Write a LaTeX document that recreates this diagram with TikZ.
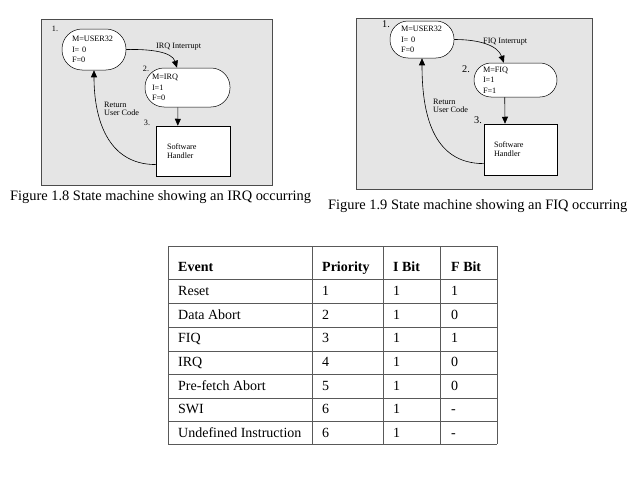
\documentclass[tikz,border=0pt]{standalone}
\usepackage{fontspec}
\setmainfont{Liberation Serif}
\usepackage{tikz}
\usetikzlibrary{arrows.meta}

\newcommand{\diagfont}{\fontsize{8.2}{10.5}\selectfont}
\newcommand{\tablafont}{\fontsize{14}{16}\selectfont}

\begin{document}
\begin{tikzpicture}[x=1pt, y=-1pt,
    panel/.style={fill=gray!20, draw=black!70, line width=0.6pt},
    estado/.style={draw, fill=white, rounded corners=#1, align=left, font=\diagfont, inner ysep=0pt, line width=0.5pt},
    manejador/.style={draw, fill=white, align=left, font=\fontsize{8.2}{9}\selectfont, inner ysep=0pt, line width=0.5pt},
    numero/.style={inner sep=0pt, font=#1},
    etiqueta/.style={anchor=west, align=left, inner sep=0pt, font=\fontsize{8.2}{8.5}\selectfont},
    flecha/.style={-{Triangle[length=7pt,width=6pt]}, line width=0.6pt},
    pie/.style={anchor=west, inner sep=0pt, font=\fontsize{14.4}{16}\selectfont},
    celda/.style={anchor=base west, inner sep=0pt, font=\tablafont},
    raya/.style={draw=black!65, line width=0.7pt}]
    \useasboundingbox (0,0) rectangle (638,479);

    % Fondos grises
    \draw[panel] (41,19) rectangle (272,185);
    \draw[panel] (356,18) rectangle (592,189);

    % Estados de la IRQ
    \node[estado=20, minimum width=64, minimum height=41, text width=44, inner xsep=10] (u1) at (94,49.5) {M=USER32\\I= 0\\F=0};
    \node[estado=19, minimum width=85, minimum height=39, text width=71, inner xsep=7] (i2) at (187.5,87.5) {M=IRQ\\I=1\\F=0};
    \node[manejador, minimum width=74, minimum height=50, text width=52, inner xsep=11] (h3) at (193,151) {Software\\Handler};
    \node[numero=\diagfont] (n1) at (55,29) {1.};
    \node[numero=\diagfont] (n2) at (146,69) {2.};
    \node[numero=\diagfont] (n3) at (147,123) {3.};

    % Estados de la FIQ
    \node[estado=18, minimum width=64, minimum height=37, text width=42, inner xsep=11] (r1) at (422,39.5) {M=USER32\\I= 0\\F=0};
    \node[estado=17, minimum width=83, minimum height=34, text width=65, inner xsep=9] (f2) at (515.5,80) {M=FIQ\\I=1\\F=1};
    \node[manejador, minimum width=73, minimum height=51, text width=53, inner xsep=10] (g3) at (520.5,149.5) {Software\\Handler};
    \node[numero=\fontsize{10.3}{11}\selectfont] (m1) at (386,24) {1.};
    \node[numero=\fontsize{10.3}{11}\selectfont] (m2) at (466,69) {2.};
    \node[numero=\fontsize{10.3}{11}\selectfont] (m3) at (478,120) {3.};

    % Transiciones (IRQ)
    \draw[flecha] (u1.east) .. controls +(24,-0.5) and +(-5,-16) .. (i2.118);
    \draw[flecha] (i2.244) -- (h3.121);
    \draw[flecha] (h3.200.7) to[out=180, in=270, looseness=1.1] (u1.south);
    \node[etiqueta] (irq) at (156,47) {IRQ Interrupt};
    \node[etiqueta] (ret1) at (104,109) {Return\\User Code};

    % Transiciones (FIQ)
    \draw[flecha] (r1.east) .. controls +(26,0) and +(-6,-17) .. (f2.124);
    \draw[flecha] (f2.238.3) -- (g3.121.3);
    \draw[flecha] (g3.201.7) to[out=180, in=270, looseness=1.1] (r1.south);
    \node[etiqueta] (fiq) at (483,42) {FIQ Interrupt};
    \node[etiqueta] (ret2) at (433,106) {Return\\User Code};

    % Pies de figura
    \node[pie] (fig18) at (10,197) {Figure 1.8 State machine showing an IRQ occurring};
    \node[pie] (fig19) at (328,206) {Figure 1.9 State machine showing an FIQ occurring};

    % Tabla de prioridades
    \foreach \y in {246,279.3,303.3,327.3,351,374.7,398,421.7,444.3}
        \draw[raya] (168.3,\y) -- (497,\y);
    \foreach \x in {168.3,312.7,383.7,440.7,497}
        \draw[raya] (\x,246) -- (\x,444.3);
    \node[celda] (hev) at (178,271.7) {\textbf{Event}};
    \node[celda] (hpr) at (322,271.7) {\textbf{Priority}};
    \node[celda] (hib) at (393,271.7) {\textbf{I Bit}};
    \node[celda] (hfb) at (451,271.7) {\textbf{F Bit}};
    \foreach \ev/\pr/\ib/\fb [count=\i] in {Reset/1/1/1, Data Abort/2/1/0, FIQ/3/1/1, IRQ/4/1/0, Pre-fetch Abort/5/1/0, SWI/6/1/-, Undefined Instruction/6/1/-} {
        \pgfmathsetmacro{\yb}{279.3+(\i-1)*23.57+16.5}
        \node[celda] (ev\i) at (178,\yb) {\ev};
        \node[celda] (pr\i) at (322,\yb) {\pr};
        \node[celda] (ib\i) at (393,\yb) {\ib};
        \node[celda] (fb\i) at (451,\yb) {\fb};
    }
\end{tikzpicture}
\end{document}
